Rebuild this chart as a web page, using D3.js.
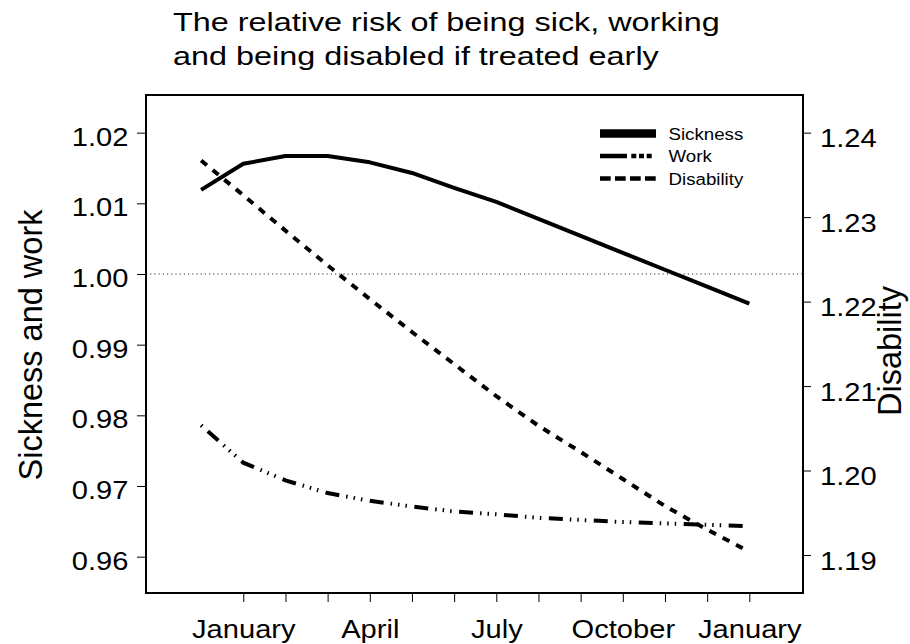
<!DOCTYPE html>
<html>
<head>
<meta charset="utf-8">
<script src="https://cdn.jsdelivr.net/npm/d3@7"></script>
<style>
body { margin: 0; background: #fff; }
text { font-family: "Liberation Sans", Arial, Helvetica, sans-serif; fill: #000; }
</style>
</head>
<body>
<script>
// month index: 0 = first January, 12 = next January, -1 = the December before
var months = [-1, 0, 1, 2, 3, 4, 5, 6, 7, 8, 9, 10, 11, 12];
var sickness = [1.0119, 1.0156, 1.0167, 1.0167, 1.0158, 1.0143, 1.0122, 1.0102,
                1.0078, 1.0054, 1.0030, 1.0006, 0.9982, 0.9958];
var work = [0.9786, 0.9733, 0.9708, 0.9690, 0.9679, 0.9671, 0.9664, 0.9660,
            0.9655, 0.9652, 0.9649, 0.9647, 0.9645, 0.9643];
var disability = [1.2367, 1.2326, 1.2284, 1.2243, 1.2203, 1.2164, 1.2126, 1.2088,
                  1.2053, 1.2022, 1.1990, 1.1958, 1.1930, 1.1904];

var monthTicks = [0, 1, 2, 3, 4, 5, 6, 7, 8, 9, 10, 11, 12];
var labelMonths = [0, 3, 6, 9, 12];
var labelNames = ["January", "April", "July", "October", "January"];
var leftTicks = [0.96, 0.97, 0.98, 0.99, 1.00, 1.01, 1.02];
var rightTicks = [1.19, 1.20, 1.21, 1.22, 1.23, 1.24];
var seriesNames = ["Sickness", "Work", "Disability"];
var titleLines = ["The relative risk of being sick, working",
                  "and being disabled if treated early"];

// plot box
var boxL = 146, boxR = 803, boxT = 95, boxB = 593;

var xScale = d3.scaleLinear().domain([-2.307, 13.273]).range([boxL, boxR]);
var yLeft = d3.scaleLinear().domain([0.95486, 1.02533]).range([boxB, boxT]);
var yRight = d3.scaleLinear().domain([1.1855, 1.24446]).range([boxB, boxT]);

var svg = d3.select("body").append("svg")
    .attr("width", 910)
    .attr("height", 644);

// title, left aligned
svg.selectAll(".title")
    .data(titleLines)
  .enter().append("text")
    .attr("class", "title")
    .attr("transform", function(d, i) { return "translate(173," + (31 + i * 34) + ") scale(1.27,1)"; })
    .style("font-size", "25.5px")
    .text(function(d) { return d; });

// x axis
var xAxis = svg.append("g")
    .attr("transform", "translate(0," + boxB + ")")
    .call(d3.axisBottom(xScale)
        .tickValues(monthTicks)
        .tickSize(9)
        .tickFormat(function(d) {
            var k = labelMonths.indexOf(d);
            return k < 0 ? "" : labelNames[k];
        }));
xAxis.select(".domain").remove();
xAxis.selectAll("text")
    .attr("y", 45).attr("dy", null)
    .attr("transform", "scale(1.12,1)")
    .style("font-size", "26px").attr("fill", "#000");

// left axis
var yAxisL = svg.append("g")
    .attr("transform", "translate(" + boxL + ",0)")
    .call(d3.axisLeft(yLeft).tickValues(leftTicks).tickSize(9).tickFormat(d3.format(".2f")));
yAxisL.select(".domain").remove();
yAxisL.selectAll("text")
    .attr("x", -17.5 / 1.12).attr("y", 12.5).attr("dy", null)
    .attr("transform", "scale(1.12,1)")
    .style("font-size", "26px").attr("fill", "#000");

// right axis
var yAxisR = svg.append("g")
    .attr("transform", "translate(" + boxR + ",0)")
    .call(d3.axisRight(yRight).tickValues(rightTicks).tickSize(8).tickFormat(d3.format(".2f")));
yAxisR.select(".domain").remove();
yAxisR.selectAll("text")
    .attr("x", 17 / 1.12).attr("y", 14).attr("dy", null)
    .attr("transform", "scale(1.12,1)")
    .style("font-size", "26px").attr("fill", "#000");

svg.selectAll(".tick line").attr("stroke", "#000");

// axis titles
svg.append("text")
    .attr("transform", "translate(41.5,345) rotate(-90)")
    .attr("text-anchor", "middle")
    .style("font-size", "32.5px")
    .text("Sickness and work");
svg.append("text")
    .attr("transform", "translate(900.5,351) rotate(-90)")
    .attr("text-anchor", "middle")
    .style("font-size", "32.5px")
    .text("Disability");

// reference line at 1
svg.append("line")
    .attr("x1", boxL).attr("x2", boxR)
    .attr("y1", yLeft(1)).attr("y2", yLeft(1))
    .attr("stroke", "#333").attr("stroke-width", 1)
    .attr("stroke-dasharray", "1.2,3");

// series
function pts(vals) {
    return months.map(function(m, i) { return {m: m, v: vals[i]}; });
}
var lineL = d3.line()
    .x(function(d) { return xScale(d.m); })
    .y(function(d) { return yLeft(d.v); });
var lineR = d3.line()
    .x(function(d) { return xScale(d.m); })
    .y(function(d) { return yRight(d.v); });

svg.append("path")
    .datum(pts(sickness))
    .attr("d", lineL)
    .attr("fill", "none").attr("stroke", "#000").attr("stroke-width", 4)
    .attr("stroke-linejoin", "round");

svg.append("path")
    .datum(pts(work))
    .attr("d", lineL)
    .attr("fill", "none").attr("stroke", "#000").attr("stroke-width", 4)
    .attr("stroke-dasharray", "14,7,1.5,6,1.5,6,1.5,7.5")
    .attr("stroke-dashoffset", 36);

svg.append("path")
    .datum(pts(disability))
    .attr("d", lineR)
    .attr("fill", "none").attr("stroke", "#000").attr("stroke-width", 4)
    .attr("stroke-dasharray", "7.5,7.5");

// frame
svg.append("rect")
    .attr("x", boxL).attr("y", boxT)
    .attr("width", boxR - boxL).attr("height", boxB - boxT)
    .attr("fill", "none").attr("stroke", "#000").attr("stroke-width", 2);

// legend
var legendRows = [133.5, 156, 178.5];
var legendDash = [null, "27,4.3,5,2.7,5,2.7,5,10", "10.7,4.3"];
var legendWidth = [8.5, 4.5, 4.5];
var legend = svg.selectAll(".legend")
    .data(seriesNames)
  .enter().append("g")
    .attr("class", "legend")
    .attr("transform", function(d, i) { return "translate(0," + legendRows[i] + ")"; });
legend.append("line")
    .attr("x1", 600).attr("x2", 656)
    .attr("stroke", "#000")
    .attr("stroke-width", function(d, i) { return legendWidth[i]; })
    .attr("stroke-dasharray", function(d, i) { return legendDash[i]; });
legend.append("text")
    .attr("transform", "translate(668.5,6) scale(1.1,1)")
    .style("font-size", "17px")
    .text(function(d) { return d; });
</script>
</body>
</html>
